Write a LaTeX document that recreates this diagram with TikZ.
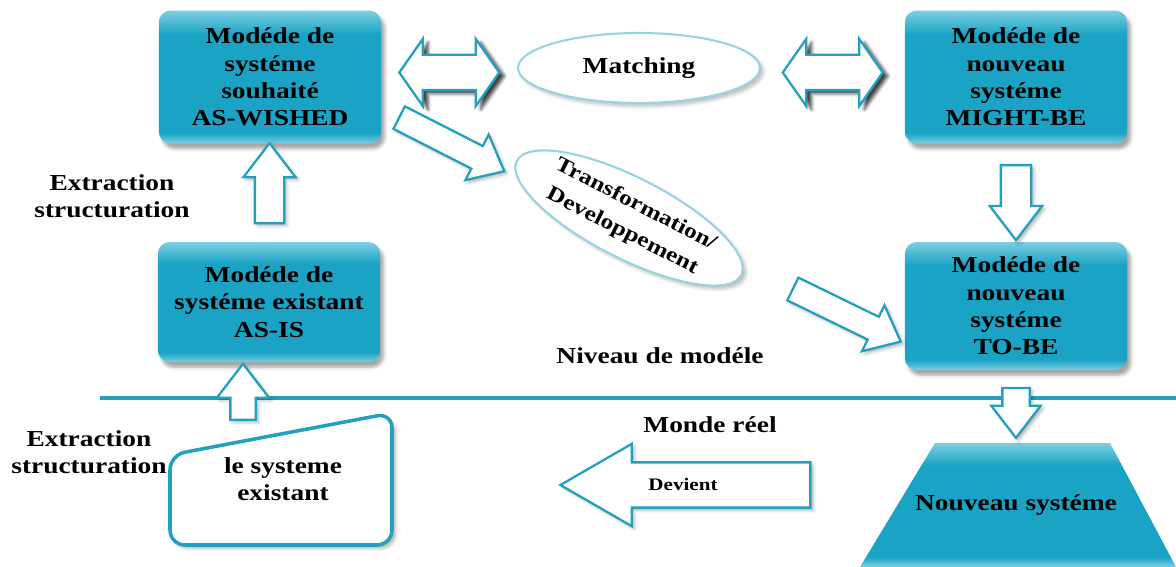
\documentclass[tikz,border=0pt]{standalone}
\usepackage{fontspec}
\setmainfont{Liberation Serif}[FakeStretch=1.2]
\usepackage{tikz}
\usetikzlibrary{shapes, shapes.geometric, shapes.arrows, positioning, calc, shadows.blur}
\definecolor{tealbox}{RGB}{26,163,196}
\definecolor{teallight}{RGB}{125,207,226}
\definecolor{tealline}{RGB}{35,160,190}
\definecolor{ovalline}{RGB}{150,212,226}
\pgfdeclareverticalshading{boxshade}{100bp}{color(0bp)=(teallight); color(25bp)=(teallight); color(29bp)=(tealbox); color(66bp)=(tealbox); color(75bp)=(teallight); color(100bp)=(teallight)}
\newcommand{\lblfont}{\bfseries\fontsize{13}{15.5}\selectfont}
\tikzstyle{box} = [rectangle, rounded corners = 0.24cm, shading = boxshade, align = center, minimum width = 4.45cm, font = \lblfont, blur shadow = {shadow xshift = 2pt, shadow yshift = -3pt, shadow opacity = 35}]
\tikzstyle{oval} = [ellipse, draw = ovalline, line width = 1.2pt, fill = white, inner sep = 0pt, align = center, font = \lblfont, blur shadow = {shadow xshift = 2pt, shadow yshift = -2pt, shadow opacity = 25}]
\tikzstyle{label} = [align = center, font = \lblfont]
\tikzstyle{fat} = [single arrow, draw = tealline, line width = 1.3pt, fill = white, blur shadow = {shadow xshift = 1.5pt, shadow yshift = -1.5pt, shadow opacity = 30}]
\tikzstyle{twoway} = [double arrow, draw = tealline, line width = 1.3pt, fill = white, inner sep = 0.33cm, minimum height = 2cm, double arrow head extend = 0.32cm, double arrow tip angle = 110, blur shadow = {shadow xshift = 3pt, shadow yshift = -2pt, shadow opacity = 75}]

\begin{document}
\begin{tikzpicture}[x = 0.02cm, y = -0.02cm]
			\useasboundingbox (0, 0) rectangle (1176, 567);
			% Place nodes
			\node [box, minimum height = 2.66cm] (wished) at (270, 77) {Modéde de\\systéme\\souhaité\\AS-WISHED};
			\node [box, minimum height = 2.66cm] (might) at (1016, 77) {Modéde de\\nouveau\\systéme\\MIGHT-BE};
			\node [box, minimum height = 2.4cm] (asis) at (269, 302) {Modéde de\\systéme existant\\AS-IS};
			\node [box, minimum height = 2.56cm] (tobe) at (1016, 306) {Modéde de\\nouveau\\systéme\\TO-BE};
			\node [oval, minimum width = 4.84cm, minimum height = 1.4cm] (match) at (639, 68) {Matching};
			\node [oval, minimum width = 4.75cm, minimum height = 1.62cm, rotate = -27, font = \bfseries\fontsize{12}{17}\selectfont] (trans) at (629, 218) {Transformation/\\Developpement};
			
			% Nouveau systeme
			\shade [shading = boxshade] (935, 443) -- (1110, 443) -- (1176, 567) -- (860, 567) -- cycle;
			\node [label] (nouveau) at (1016, 505) {Nouveau systéme};
			
			\node [label] (extr1) at (112, 196) {Extraction\\structuration};
			\node [label] (extr2) at (89, 452) {Extraction\\structuration};
			\node [label] (niveau) at (660, 356) {Niveau de modéle};
			\node [label] (monde) at (710, 425) {Monde réel};
			
			% le systeme existant
			\draw [tealline, line width = 2pt, fill = white, rounded corners = 0.3cm, blur shadow = {shadow xshift = 2pt, shadow yshift = -2pt, shadow opacity = 30}] (170, 455) -- (392, 413) -- (392, 545) -- (170, 545) -- cycle;
			\node [label] (sys) at (283, 479) {le systeme\\existant};
			
			% separation
			\draw [tealline, line width = 1.8pt] (100, 398) -- (1176, 398);
			
			% Draw edges
			\node [twoway] (w2m) at ($(wished.east)!0.5!(match.west)$) {};
			\node [twoway] (m2m) at ($(match.east)!0.5!(might.west)$) {};
			\node [fat, rotate = 90, inner sep = 0.27cm, minimum height = 1.6cm, single arrow head extend = 0.23cm, single arrow tip angle = 75] (up1) at ($(asis.north)!0.5!(wished.south)$) {};
			\node [fat, rotate = -90, inner sep = 0.28cm, minimum height = 1.5cm, single arrow head extend = 0.22cm, single arrow tip angle = 75] (down1) at ($(might.south)!0.5!(tobe.north)$) {};
			\node [fat, rotate = -90, inner sep = 0.25cm, minimum height = 1cm, single arrow head extend = 0.22cm, single arrow tip angle = 75] (down2) at (1016, 404) {};
			\node [fat, rotate = 90, inner sep = 0.23cm, minimum height = 1.12cm, single arrow head extend = 0.27cm, single arrow tip angle = 75] (up2) at (243, 400) {};
			\node [fat, rotate = -27, inner sep = 0.23cm, minimum height = 2.36cm, single arrow head extend = 0.26cm, single arrow tip angle = 80] (d1) at (445, 141) {};
			\node [fat, rotate = -26, inner sep = 0.23cm, minimum height = 2.4cm, single arrow head extend = 0.26cm, single arrow tip angle = 80] (d2) at (840, 312) {};
			\node [fat, shape border rotate = 180, inner sep = 0.43cm, minimum height = 5cm, single arrow head extend = 0.37cm, single arrow tip angle = 60] (devient) at (705, 485) {};
			\node [font = \bfseries\fontsize{10}{12}\selectfont] (devlbl) at (683, 484) {Devient};
		\end{tikzpicture}
\end{document}
